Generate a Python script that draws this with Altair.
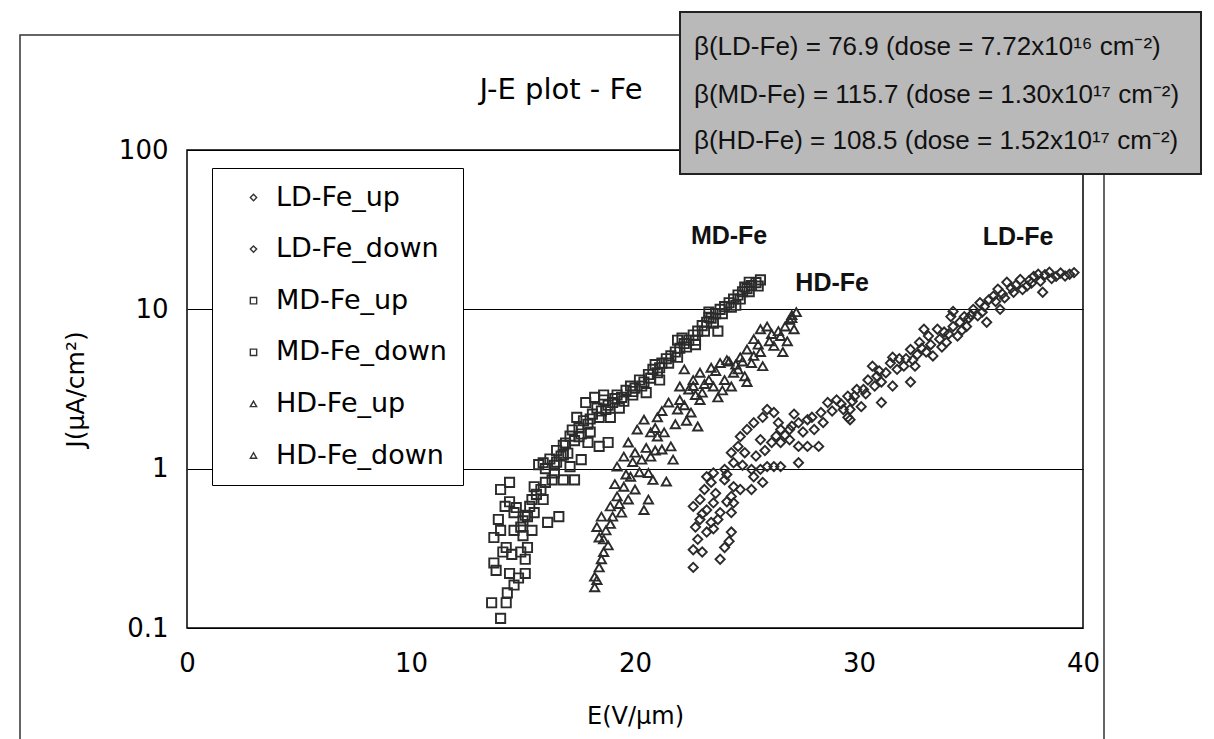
import altair as alt
import pandas as pd

# ---------------- data (E in V/um, J in uA/cm^2) ----------------
LD_UP = [(22.6, 0.24), (24.0, 0.32), (24.3, 0.40), (22.8, 0.36), (22.9, 0.48), (23.4, 0.46),
         (22.6, 0.58), (23.2, 0.55), (23.8, 0.53), (24.4, 0.61), (23.1, 0.74), (23.2, 0.89),
         (24.0, 0.85), (24.7, 0.74), (24.0, 0.99), (24.3, 1.26), (24.9, 1.26), (25.3, 0.89),
         (25.6, 0.99), (26.2, 1.03), (27.3, 1.09), (25.0, 1.76), (25.7, 2.10), (26.2, 2.25),
         (26.5, 1.76), (26.1, 1.46), (26.9, 1.52), (26.9, 1.76), (27.1, 2.20), (28.0, 1.76),
         (27.7, 1.38), (28.6, 2.60), (29.3, 2.35), (29.5, 2.85),
         (29.5, 2.10), (29.6, 2.35), (30.4, 3.60), (30.8, 3.80), (31.0, 3.50), (31.4, 4.60),
         (31.5, 3.30), (32.3, 5.60), (32.4, 4.80), (32.9, 7.50), (33.3, 5.10), (33.6, 6.50),
         (34.2, 7.80), (34.1, 9.00), (34.7, 9.00), (35.1, 10.0), (35.5, 9.60), (36.0, 12.1),
         (36.3, 10.0), (36.9, 12.8), (37.5, 14.0), (38.1, 15.0), (38.5, 17.1), (39.4, 16.6),
         (30.9, 4.10), (32.6, 5.20), (33.8, 7.20), (35.0, 9.20), (36.4, 12.5), (37.6, 15.2),
         (39.0, 16.9),
         (23.0, 0.52), (24.1, 0.92), (25.4, 1.20), (26.3, 1.60), (27.0, 1.85), (27.9, 2.10),
         (28.8, 2.30), (29.7, 2.65), (30.7, 3.30), (31.7, 4.20), (32.5, 4.40), (33.2, 6.00),
         (34.0, 7.00), (34.9, 8.80), (35.6, 10.4), (36.5, 11.8), (37.3, 13.3), (38.0, 16.6),
         (39.2, 16.2), (23.5, 0.42)]
LD_DOWN = [(23.8, 0.27), (24.2, 0.35), (22.6, 0.31), (22.7, 0.43), (23.2, 0.40), (23.7, 0.48),
           (22.9, 0.64), (23.5, 0.61), (24.3, 0.53), (24.3, 0.67), (23.4, 0.82), (23.5, 0.94),
           (24.4, 0.77), (25.2, 0.74), (24.4, 1.09), (24.6, 1.38), (25.2, 0.99), (25.7, 0.82),
           (25.9, 1.03), (26.5, 1.03), (24.7, 1.59), (25.3, 1.94), (25.9, 2.35), (26.4, 1.94),
           (25.6, 1.52), (26.5, 1.46), (27.3, 1.38), (27.3, 1.94), (27.7, 2.03), (28.2, 1.38),
           (28.3, 2.25), (29.0, 2.70), (29.6, 2.03), (29.9, 3.14),
           (29.8, 2.85), (30.1, 2.45), (30.2, 3.14), (30.6, 4.40), (31.0, 2.60), (31.5, 5.00),
           (32.0, 4.40), (32.3, 3.50), (32.7, 6.20), (33.0, 5.40), (33.5, 7.50), (33.9, 6.20),
           (34.4, 6.80), (34.2, 9.70), (34.8, 7.80), (35.4, 11.0), (35.7, 8.30), (36.2, 13.4),
           (36.6, 14.8), (37.2, 15.4), (37.8, 16.1), (38.2, 12.8), (38.8, 16.1),
           (31.8, 4.90), (33.1, 6.80), (34.5, 8.30), (35.8, 11.5), (37.0, 14.2), (38.3, 16.5),
           (39.6, 17.0),
           (23.6, 0.70), (24.8, 1.05), (25.8, 1.30), (26.7, 1.62), (27.5, 1.70), (28.4, 1.95),
           (29.2, 2.55), (30.3, 2.95), (31.2, 4.00), (32.1, 4.90), (32.8, 5.70), (33.7, 5.80),
           (34.6, 7.40), (35.3, 9.10), (36.1, 11.2), (36.8, 13.6), (37.7, 14.6), (38.6, 15.6),
           (23.0, 0.30), (24.1, 0.62)]
MD_UP = [(14.0, 0.115), (13.6, 0.144), (14.25, 0.144), (14.3, 0.166), (14.6, 0.186), (14.8, 0.206),
         (13.7, 0.256), (13.8, 0.23), (14.4, 0.22), (15.1, 0.22), (14.5, 0.29), (15.1, 0.27),
         (15.2, 0.32), (14.25, 0.32), (13.7, 0.37), (14.0, 0.41), (14.6, 0.41), (14.9, 0.43),
         (15.4, 0.41), (13.9, 0.48), (15.2, 0.50), (14.2, 0.58), (14.7, 0.57), (14.6, 0.53),
         (15.1, 0.51), (15.5, 0.53), (16.1, 0.46), (16.6, 0.50), (14.0, 0.74), (14.4, 0.82),
         (15.4, 0.64), (15.9, 0.64), (15.5, 0.77), (15.8, 0.74), (15.7, 1.06), (15.9, 1.09),
         (16.4, 0.94), (16.3, 0.85), (16.8, 1.22), (16.8, 0.85), (17.1, 1.03), (17.3, 0.85),
         (17.6, 1.14), (17.5, 1.59), (17.9, 1.46), (18.4, 1.38), (18.8, 1.46),
         (17.8, 2.6), (18.2, 2.8), (18.9, 2.1), (19.3, 2.4), (20.5, 3.0), (21.1, 3.6),
         (21.9, 6.4), (22.7, 6.0), (23.3, 9.6), (23.7, 7.3), (24.5, 10.6), (25.1, 14.8),
         (18.0, 1.7), (19.9, 2.9),
         (14.1, 0.30), (14.9, 0.30), (15.0, 0.38), (15.3, 0.58), (15.6, 0.69), (16.0, 0.82),
         (16.5, 1.10), (17.0, 1.25), (14.4, 0.62), (15.0, 0.47)]
MD_DOWN = [(16.0, 1.00), (16.2, 1.15), (16.5, 1.30), (16.7, 1.20), (16.9, 1.45), (17.1, 1.60),
           (17.3, 1.50), (17.5, 1.80), (17.7, 2.00), (17.9, 1.90), (18.1, 2.20), (18.3, 2.40),
           (18.5, 2.30), (18.6, 2.70), (18.8, 2.50), (19.0, 2.60), (19.2, 2.90), (19.4, 2.80),
           (19.6, 3.10), (19.8, 3.30), (20.0, 3.20), (20.2, 3.60), (20.4, 3.50), (20.6, 3.90),
           (20.8, 4.20), (21.0, 4.00), (21.2, 4.60), (21.4, 4.90), (21.6, 5.10), (21.8, 5.40),
           (22.0, 5.70), (22.2, 6.10), (22.4, 6.40), (22.6, 6.90), (22.8, 7.30), (23.0, 7.90),
           (23.2, 8.30), (23.4, 8.80), (23.6, 9.40), (23.8, 10.0), (24.0, 10.4), (24.2, 11.0),
           (24.4, 11.6), (24.6, 12.3), (24.8, 12.9), (25.0, 13.5), (25.2, 14.1), (25.4, 14.7),
           (25.6, 15.3),
           (16.4, 1.05), (16.8, 1.40), (17.2, 1.75), (17.6, 1.65), (18.0, 2.05), (18.4, 2.10),
           (18.7, 2.35), (19.1, 2.75), (19.5, 2.65), (19.9, 3.05), (20.3, 3.30), (20.7, 3.70),
           (21.1, 4.30), (21.5, 4.60), (21.9, 5.00), (22.3, 5.80), (22.7, 6.40), (23.1, 7.30),
           (23.5, 8.20), (23.9, 9.40), (24.3, 10.3), (24.7, 11.6), (25.1, 12.9), (25.5, 14.0),
           (17.4, 2.10), (18.6, 2.90), (20.9, 4.50), (22.1, 6.60), (23.3, 8.90), (24.9, 13.8)]
HD_UP = [(18.2, 0.18), (18.2, 0.21), (18.4, 0.24), (18.5, 0.27), (18.6, 0.30), (18.4, 0.37),
         (18.3, 0.43), (18.7, 0.41), (18.5, 0.50), (19.0, 0.50), (18.9, 0.58), (19.4, 0.53),
         (19.2, 0.67), (19.7, 0.64), (19.5, 0.77), (20.0, 0.74), (20.4, 0.55), (20.6, 0.64),
         (19.8, 0.89), (19.2, 1.03), (19.5, 1.19), (20.0, 1.26), (20.3, 1.14), (20.6, 0.94),
         (20.8, 0.85), (21.4, 0.83), (20.7, 1.19), (21.2, 1.32), (21.0, 1.59), (19.7, 1.46),
         (20.1, 1.76), (20.4, 2.03), (20.7, 1.69), (21.3, 1.69),
         (19.9, 1.10), (20.9, 1.30), (19.1, 0.80), (18.8, 0.33),
         (18.3, 0.20), (18.6, 0.36), (18.9, 0.45), (19.3, 0.60), (19.6, 0.92), (20.2, 0.95),
         (20.5, 1.35), (20.9, 1.80), (21.2, 2.30), (21.8, 1.90)]
HD_DOWN = [(21.6, 1.38), (21.7, 1.14), (21.9, 2.35), (22.0, 2.70), (22.5, 2.25), (22.8, 1.84),
           (22.9, 2.70), (22.4, 3.14), (22.0, 3.28), (22.6, 3.60), (22.9, 4.00), (23.3, 3.60),
           (23.5, 3.28), (23.7, 2.80), (23.8, 4.60), (24.1, 4.80), (24.6, 4.20), (24.9, 3.80),
           (25.0, 3.50), (22.2, 4.20), (24.3, 3.28), (25.0, 5.60), (25.3, 6.50), (25.6, 5.40),
           (25.9, 7.80), (26.2, 5.90), (26.5, 6.80), (26.6, 5.40), (26.9, 8.60), (27.2, 9.60),
           (27.1, 7.50), (25.3, 5.10), (25.7, 4.40), (25.6, 7.50),
           (21.0, 2.10), (21.5, 2.60), (22.3, 2.00), (23.0, 3.00), (23.6, 4.10), (24.4, 4.00),
           (24.7, 5.00), (25.2, 4.60), (26.0, 6.30), (26.4, 7.30), (26.8, 6.30), (27.0, 8.80),
           (22.2, 2.50), (22.7, 2.90), (23.1, 3.40), (23.4, 4.30), (24.0, 3.60), (24.5, 4.50),
           (24.8, 4.70), (25.5, 6.00), (26.1, 7.00), (26.7, 7.80), (27.0, 9.20), (24.2, 4.70),
           (23.9, 3.10), (22.6, 3.30)]

SERIES = ["LD-Fe_up", "LD-Fe_down", "MD-Fe_up", "MD-Fe_down", "HD-Fe_up", "HD-Fe_down"]
SHAPES = ["diamond", "diamond", "square", "square", "triangle-up", "triangle-up"]
SERIES_DATA = [LD_UP, LD_DOWN, MD_UP, MD_DOWN, HD_UP, HD_DOWN]

CURVE_LABELS = ["MD-Fe", "HD-Fe", "LD-Fe"]
CURVE_LABEL_E = [24.2, 28.8, 37.1]
CURVE_LABEL_J = [28.8, 14.6, 28.4]

X_TICKS = [0, 10, 20, 30, 40]
Y_TICKS = [0.1, 1, 10, 100]

TITLE = "J-E plot - Fe"
NOTE_LINES = [
    "β(LD-Fe) = 76.9 (dose = 7.72x10¹⁶ cm⁻²)",
    "β(MD-Fe) = 115.7 (dose = 1.30x10¹⁷ cm⁻²)",
    "β(HD-Fe) = 108.5 (dose = 1.52x10¹⁷ cm⁻²)",
]
NOTE_Y = [47, 95, 141]   # page pixel rows of the three note lines

# ---------------- build tables ----------------
rows = []
for name, pts in zip(SERIES, SERIES_DATA):
    for e, j in pts:
        rows.append({"series": name, "E": e, "J": j})
df = pd.DataFrame(rows)

lab_df = pd.DataFrame({"name": CURVE_LABELS, "E": CURVE_LABEL_E, "J": CURVE_LABEL_J})
one = pd.DataFrame({"a": [0]})

W, H = 896, 478
LEFT, TOP = 187, 150

AXIS_FONT = "DejaVu Sans"

x_enc = alt.X("E:Q", scale=alt.Scale(domain=[0, 40], nice=False, zero=False),
              axis=alt.Axis(values=X_TICKS, title="E(V/μm)", grid=False, ticks=False, domain=False,
                            labelFlush=False, labelPadding=22, labelFontSize=26, titleFontSize=24,
                            titlePadding=28, labelFont=AXIS_FONT, titleFont=AXIS_FONT,
                            labelColor="black", titleColor="black", titleFontWeight="normal"))
y_enc = alt.Y("J:Q", scale=alt.Scale(type="log", domain=[0.1, 100], nice=False),
              axis=alt.Axis(values=Y_TICKS, title="J(μA/cm²)", grid=True, gridColor="black",
                            gridWidth=1.2, gridOpacity=1, ticks=False, domain=False, format="~g",
                            labelPadding=19, labelFontSize=26, titleFontSize=25, titlePadding=30,
                            labelFont=AXIS_FONT, titleFont=AXIS_FONT, labelColor="black",
                            titleColor="black", titleFontWeight="normal", labelFlush=False))

points = alt.Chart(df).mark_point(filled=False, size=85, strokeWidth=1.9, color="#2b2b2b",
                                  opacity=1).encode(
    x=x_enc,
    y=y_enc,
    shape=alt.Shape("series:N", scale=alt.Scale(domain=SERIES, range=SHAPES),
                    legend=alt.Legend(title=None, orient="none", legendX=25, legendY=18,
                                      labelFont=AXIS_FONT, labelFontSize=27, labelColor="black",
                                      symbolSize=40, symbolStrokeColor="#333333",
                                      symbolFillColor="white", symbolStrokeWidth=1.4,
                                      strokeColor="black", fillColor="white", padding=16,
                                      rowPadding=23.6, symbolOffset=12, labelOffset=9,
                                      labelLimit=400)),
)

curve_labels = alt.Chart(lab_df).mark_text(font="Liberation Sans", fontWeight="bold", fontSize=25,
                                           color="#111111").encode(
    x=alt.X("E:Q"), y=alt.Y("J:Q"), text="name:N")

outer = alt.Chart(one).mark_rect(fill="transparent", stroke="#333333", strokeWidth=1.5).encode(
    x=alt.value(20 - LEFT), x2=alt.value(1104 - LEFT),
    y=alt.value(35 - TOP), y2=alt.value(760 - TOP))

title_text = alt.Chart(one).mark_text(text=TITLE, font=AXIS_FONT, fontSize=29, color="black",
                                      align="center", baseline="middle").encode(
    x=alt.value(561 - LEFT), y=alt.value(90 - TOP))

note_box = alt.Chart(one).mark_rect(fill="#b9b9b9", stroke="#222222", strokeWidth=2).encode(
    x=alt.value(680 - LEFT), x2=alt.value(1201 - LEFT),
    y=alt.value(12 - TOP), y2=alt.value(174 - TOP))

note_layers = [
    alt.Chart(one).mark_text(text=line, font="Liberation Sans", fontSize=26, align="left",
                             baseline="middle", color="#111111").encode(
        x=alt.value(694 - LEFT), y=alt.value(ypix - TOP))
    for line, ypix in zip(NOTE_LINES, NOTE_Y)
]

chart = alt.layer(outer, title_text, points, curve_labels, note_box, *note_layers).properties(
    width=W, height=H,
    autosize=alt.AutoSizeParams(type="none"),
    padding={"left": LEFT, "top": TOP, "right": 1214 - LEFT - W, "bottom": 739 - TOP - H},
    background="white",
).configure_view(stroke="black", strokeWidth=1.5)

chart.save("out.html", embed_options={"renderer": "svg", "actions": False})
